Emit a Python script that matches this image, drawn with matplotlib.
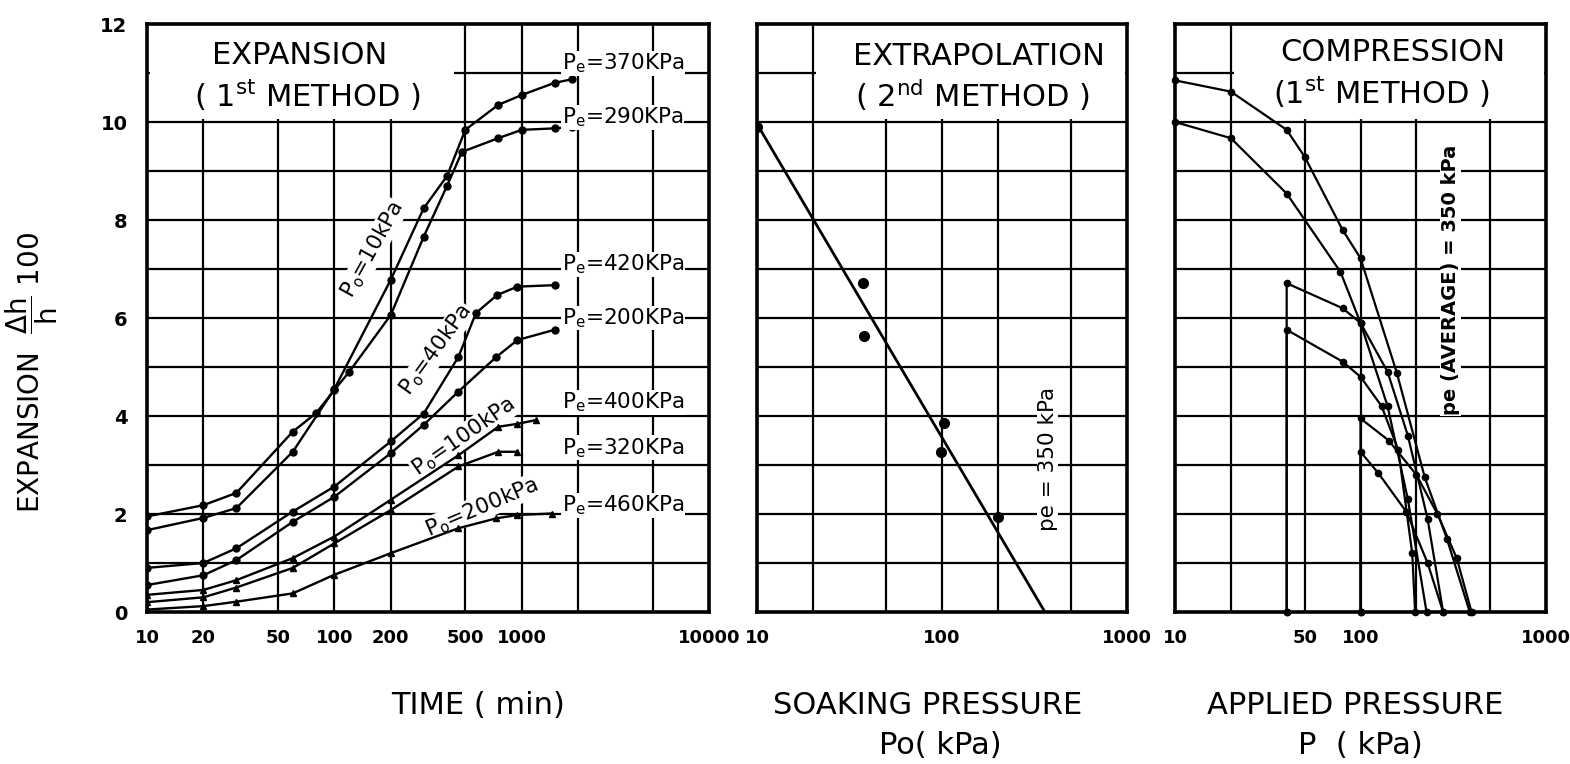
import matplotlib.pyplot as plt
from matplotlib.patches import Rectangle

plt.rcParams['font.family'] = ['DejaVu Sans']
plt.rcParams['mathtext.default'] = 'regular'

# ---- panel 1: expansion vs time (1st method) ----
t_370 = [10, 20, 30, 60, 100, 200, 300, 400, 500, 750, 1000, 1500, 1850]
e_370 = [1.67, 1.92, 2.12, 3.27, 4.55, 6.78, 8.24, 8.9, 9.84, 10.35, 10.55, 10.8, 10.87]
t_290 = [10, 20, 30, 60, 80, 100, 120, 200, 300, 400, 480, 750, 1000, 1500, 1850]
e_290 = [1.95, 2.18, 2.43, 3.68, 4.06, 4.53, 4.9, 6.06, 7.66, 8.7, 9.39, 9.67, 9.84, 9.87, 9.9]
t_420 = [10, 20, 30, 60, 100, 200, 300, 460, 570, 740, 950, 1500]
e_420 = [0.9, 1.0, 1.3, 2.05, 2.56, 3.48, 4.05, 5.21, 6.1, 6.47, 6.64, 6.67]
t_200 = [10, 20, 30, 60, 100, 200, 300, 460, 730, 950, 1500]
e_200 = [0.55, 0.75, 1.06, 1.84, 2.35, 3.24, 3.82, 4.5, 5.2, 5.55, 5.76]
t_400 = [10, 20, 30, 60, 100, 200, 460, 750, 950, 1200]
e_400 = [0.35, 0.45, 0.65, 1.1, 1.54, 2.29, 3.2, 3.78, 3.84, 3.92]
t_320 = [10, 20, 30, 60, 100, 200, 460, 750, 950]
e_320 = [0.2, 0.3, 0.5, 0.9, 1.4, 2.08, 2.97, 3.27, 3.27]
t_460 = [10, 20, 30, 60, 100, 200, 460, 730, 950, 1450]
e_460 = [0.05, 0.12, 0.21, 0.38, 0.76, 1.2, 1.71, 1.91, 1.98, 2.01]

pe_labels = ['370', '290', '420', '200', '400', '320', '460']
pe_label_y = [11.2, 10.1, 7.1, 6.0, 4.28, 3.35, 2.18]

po_labels = ['10', '40', '100', '200']
po_label_x = [160, 349, 490, 612]
po_label_y = [7.4, 5.35, 3.57, 2.14]
po_label_rot = [61, 54, 35, 23]

# ---- panel 2: extrapolation (2nd method) ----
po_pts = [10, 37.4, 37.8, 102, 99, 200]
e_pts = [9.9, 6.72, 5.64, 3.86, 3.27, 1.94]
fit_x = [10, 360]
fit_y = [9.96, 0]

# ---- panel 3: compression (1st method) ----
p_c1 = [10, 20, 40, 50, 80, 100, 157, 222, 292, 388]
e_c1 = [10.85, 10.62, 9.84, 9.29, 7.8, 7.22, 4.88, 2.75, 1.5, 0]
p_c2 = [10, 20, 40, 78, 100, 140, 180, 227]
e_c2 = [10.0, 9.67, 8.54, 6.94, 5.9, 4.2, 2.3, 0]
p_c3 = [40, 40, 80, 100, 140, 180, 230, 279]
e_c3 = [0, 6.71, 6.2, 5.9, 4.9, 3.6, 1.9, 0]
p_c4 = [40, 40, 80, 100, 130, 160, 190, 197]
e_c4 = [0, 5.76, 5.11, 4.8, 4.2, 3.3, 1.2, 0]
p_c5 = [100, 100, 142, 200, 260, 330, 397]
e_c5 = [0, 3.95, 3.5, 2.8, 2.0, 1.1, 0]
p_c6 = [100, 100, 125, 177, 230, 279]
e_c6 = [0, 3.27, 2.83, 2.04, 1.0, 0]

W, H = 1570, 764
fig = plt.figure(figsize=(W / 100, H / 100), dpi=100)


def box(l, r, t=24, b=612):
    return [l / W, (H - b) / H, (r - l) / W, (b - t) / H]


ax1 = fig.add_axes(box(147, 709))
ax2 = fig.add_axes(box(757, 1127))
ax3 = fig.add_axes(box(1175, 1546))

grids = [(ax1, 10, 10000, [10, 20, 50, 100, 200, 500, 1000, 2000, 5000, 10000],
          [10, 20, 50, 100, 200, 500, 1000, 10000]),
         (ax2, 10, 1000, [10, 20, 50, 100, 200, 500, 1000], [10, 100, 1000]),
         (ax3, 10, 1000, [10, 20, 50, 100, 200, 500, 1000], [10, 50, 100, 1000])]

for ax, x0, x1, gx, lx in grids:
    ax.set_xscale('log')
    ax.set_xlim(x0, x1)
    ax.set_ylim(0, 12)
    ax.set_axisbelow(True)
    for v in gx[1:-1]:
        ax.axvline(v, color='black', lw=1.6, zorder=0.5)
    for v in range(1, 12):
        ax.axhline(v, color='black', lw=1.6, zorder=0.5)
    ax.set_xticks(lx)
    ax.set_xticklabels([str(v) for v in lx])
    ax.xaxis.set_minor_locator(plt.NullLocator())
    ax.set_yticks(range(0, 13, 2))
    ax.tick_params(length=0, labelsize=13, pad=12)
    for lbl in ax.get_xticklabels() + ax.get_yticklabels():
        lbl.set_fontweight('bold')
    for s in ax.spines.values():
        s.set_linewidth(2.6)
ax2.set_yticklabels([])
ax3.set_yticklabels([])
ax1.tick_params(axis='y', pad=14, labelsize=14)

# white areas behind the titles
ax1.add_patch(Rectangle((0.006, 10.06 / 12), 0.54, 1, transform=ax1.transAxes,
                        facecolor='white', edgecolor='none', zorder=1))
ax2.add_patch(Rectangle((0.16, 10.06 / 12), 0.835, 1, transform=ax2.transAxes,
                        facecolor='white', edgecolor='none', zorder=1))
ax3.add_patch(Rectangle((0.16, 10.06 / 12), 0.835, 1, transform=ax3.transAxes,
                        facecolor='white', edgecolor='none', zorder=1))

tkw = dict(ha='center', va='center', fontsize=22, zorder=4)
ax1.text(0.272, 0.946, 'EXPANSION', transform=ax1.transAxes, **tkw)
ax1.text(0.286, 0.878, '( 1$^{st}$ METHOD )', transform=ax1.transAxes, **tkw)
ax2.text(0.60, 0.944, 'EXTRAPOLATION', transform=ax2.transAxes, **tkw)
ax2.text(0.581, 0.879, '( 2$^{nd}$ METHOD )', transform=ax2.transAxes, **tkw)
ax3.text(0.588, 0.952, 'COMPRESSION', transform=ax3.transAxes, **tkw)
ax3.text(0.558, 0.883, '(1$^{st}$ METHOD )', transform=ax3.transAxes, **tkw)

# panel 1 curves
lkw = dict(color='black', lw=1.7, ms=5, zorder=2)
ax1.plot(t_370, e_370, '-o', **lkw)
ax1.plot(t_290, e_290, '-o', **lkw)
ax1.plot(t_420, e_420, '-o', **lkw)
ax1.plot(t_200, e_200, '-o', **lkw)
ax1.plot(t_400, e_400, '-^', **lkw)
ax1.plot(t_320, e_320, '-^', **lkw)
ax1.plot(t_460, e_460, '-^', **lkw)

wbox = dict(facecolor='white', edgecolor='none', pad=0.5)
for lab, y in zip(pe_labels, pe_label_y):
    ax1.text(1640, y, 'P$_{e}$=' + lab + 'KPa', fontsize=15.5, va='center', ha='left',
             bbox=wbox, zorder=3)
for lab, x, y, r in zip(po_labels, po_label_x, po_label_y, po_label_rot):
    ax1.text(x, y, 'P$_{o}$=' + lab + 'kPa', fontsize=15.5, rotation=r,
             ha='center', va='center', rotation_mode='anchor', bbox=wbox, zorder=1.5)

# panel 2
ax2.plot(fit_x, fit_y, color='black', lw=2, zorder=2)
ax2.plot(po_pts, e_pts, 'o', color='black', ms=7, zorder=2)
ax2.text(372, 3.12, 'pe = 350 kPa', rotation=90, fontsize=15.5, ha='center', va='center',
         bbox=wbox, zorder=3)

# panel 3
for px, ey in [(p_c1, e_c1), (p_c2, e_c2), (p_c3, e_c3), (p_c4, e_c4), (p_c5, e_c5), (p_c6, e_c6)]:
    ax3.plot(px, ey, '-o', color='black', lw=1.6, ms=4.5, zorder=2, clip_on=False)
ax3.text(305, 6.78, 'pe (AVERAGE) = 350 kPa', rotation=90, fontsize=14, fontweight='bold',
         ha='center', va='center', bbox=wbox, zorder=3)

# axis titles
fig.text(32 / W, 1 - 372 / H, r'EXPANSION  $\dfrac{\Delta h}{h}$ 100', rotation=90,
         ha='center', va='center', fontsize=20)
fig.text(478 / W, 1 - 705 / H, 'TIME ( min)', ha='center', va='center', fontsize=22)
fig.text(928 / W, 1 - 705 / H, 'SOAKING PRESSURE', ha='center', va='center', fontsize=22)
fig.text(940 / W, 1 - 745 / H, 'Po( kPa)', ha='center', va='center', fontsize=22)
fig.text(1355 / W, 1 - 705 / H, 'APPLIED PRESSURE', ha='center', va='center', fontsize=22)
fig.text(1360 / W, 1 - 745 / H, 'P  ( kPa)', ha='center', va='center', fontsize=22)

fig.savefig('out.png', dpi=100)
